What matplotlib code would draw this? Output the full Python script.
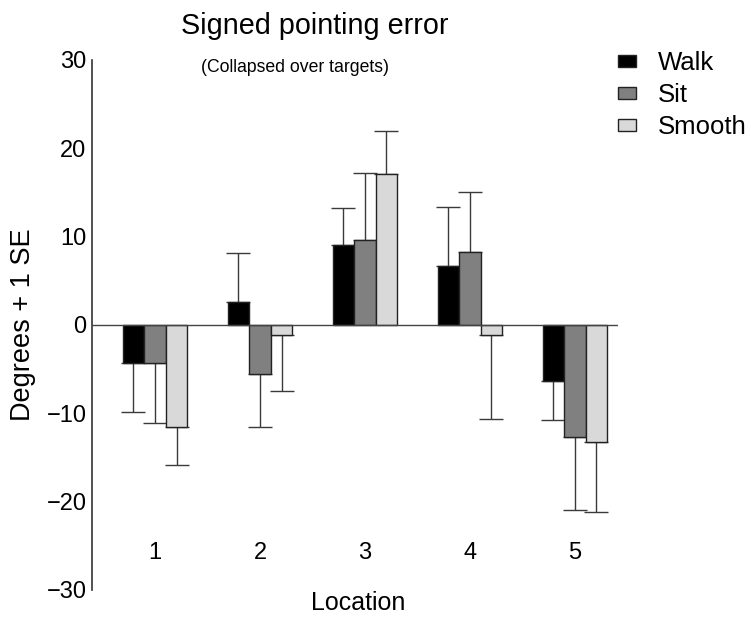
import numpy as np
import matplotlib

matplotlib.use("Agg")
import matplotlib.pyplot as plt
from matplotlib.patches import Patch

plt.rcParams["font.family"] = ["Liberation Sans", "DejaVu Sans"]

locations = ["1", "2", "3", "4", "5"]
conditions = ["Walk", "Sit", "Smooth"]
colors = ["#000000", "#808080", "#d9d9d9"]

# mean signed error (degrees) per condition, per location
walk = [-4.3, 2.6, 9.1, 6.7, -6.3]
sit = [-4.3, -5.6, 9.6, 8.3, -12.7]
smooth = [-11.6, -1.1, 17.1, -1.1, -13.3]

# one standard error, drawn away from zero
walk_se = [5.6, 5.6, 4.2, 6.7, 4.4]
sit_se = [6.8, 5.9, 7.6, 6.8, 8.3]
smooth_se = [4.3, 6.4, 4.9, 9.5, 7.9]

means = [walk, sit, smooth]
ses = [walk_se, sit_se, smooth_se]

fig = plt.figure(figsize=(7.51, 6.17), dpi=100)
ax = fig.add_axes([92 / 751, 1 - 590 / 617, (618 - 92) / 751, 530 / 617])

x = np.arange(1, len(locations) + 1)
width = 0.205
for k, (m, s, c) in enumerate(zip(means, ses, colors)):
    m = np.asarray(m)
    s = np.asarray(s)
    pos = x + (k - 1) * width
    lower = np.where(m < 0, s, 0)
    upper = np.where(m >= 0, s, 0)
    ax.errorbar(pos, m, yerr=[lower, upper], fmt="none", ecolor="#3a3a3a",
                elinewidth=1.0, capsize=8.5, capthick=1.0, zorder=1)
    ax.bar(pos, m, width=width, color=c, edgecolor="#222222", linewidth=1.0,
           zorder=2)

ax.axhline(0, color="#444444", lw=1.0, zorder=3)

ax.set_xlim(0.4, 5.41)
ax.set_ylim(-30, 30)
ax.set_yticks([-30, -20, -10, 0, 10, 20, 30])
ax.tick_params(axis="y", length=0, pad=4, labelsize=17)
ax.set_xticks([])
for sp in ["top", "right", "bottom"]:
    ax.spines[sp].set_visible(False)
ax.spines["left"].set_color("#333333")
ax.spines["left"].set_linewidth(1.2)

for xi, lab in zip(x, locations):
    ax.text(xi, -25.8, lab, ha="center", va="center", fontsize=17)

fig.text(23 / 751, 1 - 325 / 617, "Degrees + 1 SE", rotation=90,
         ha="center", va="center", fontsize=19.5)
fig.text(358 / 751, 1 - 603 / 617, "Location", ha="center", va="center",
         fontsize=18)

fig.text(315 / 751, 1 - 26 / 617, "Signed pointing error", ha="center",
         va="center", fontsize=20.7)
fig.text(295 / 751, 1 - 67 / 617, "(Collapsed over targets)", ha="center",
         va="center", fontsize=12.7)

handles = [Patch(facecolor=c, edgecolor="#222222", linewidth=1.0)
           for c in colors]
fig.legend(handles, conditions, loc="upper left",
           bbox_to_anchor=(618 / 751, 1 - 51 / 617), frameon=False,
           fontsize=18.5, handlelength=0.7, handleheight=0.35,
           handletextpad=0.85, labelspacing=0.32, borderpad=0,
           borderaxespad=0)

fig.savefig("out.png", dpi=100)
